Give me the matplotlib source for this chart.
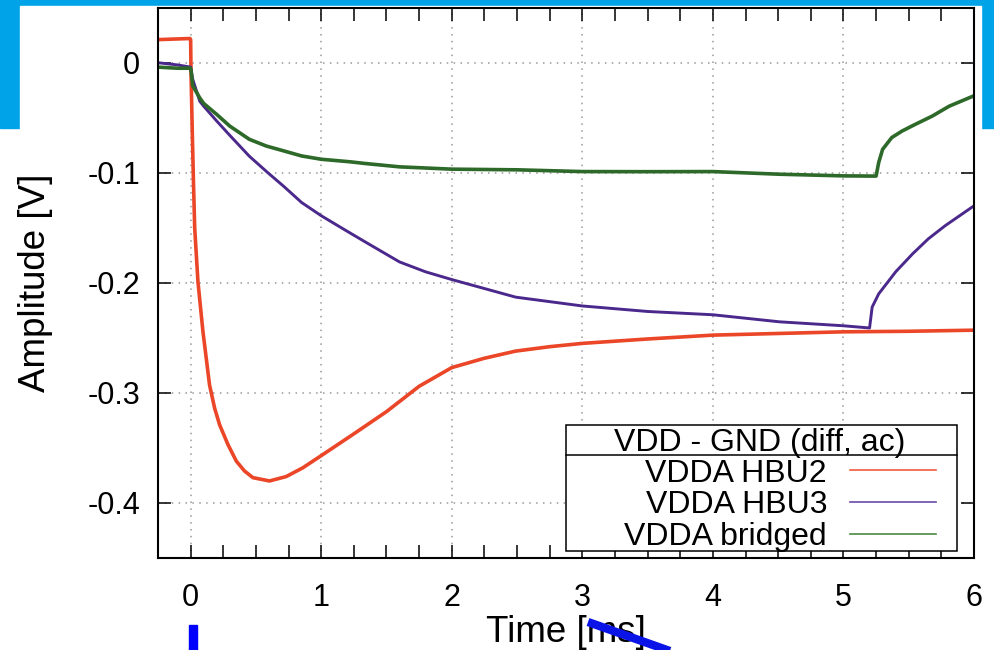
import matplotlib.pyplot as plt
from matplotlib.patches import Rectangle
from matplotlib.lines import Line2D
from matplotlib.ticker import MultipleLocator, FuncFormatter

plt.rcParams['font.family'] = ['Liberation Sans', 'DejaVu Sans']

# (time in ms, amplitude in V)
t_hbu2 = [-0.25, -0.005, 0.0, 0.003, 0.012, 0.022, 0.031, 0.056, 0.094, 0.145, 0.184,
          0.222, 0.286, 0.35, 0.413, 0.477, 0.604, 0.732, 0.86, 1.0, 1.24, 1.5, 1.75,
          2.0, 2.25, 2.49, 2.75, 3.0, 3.5, 4.0, 4.5, 5.0, 5.5, 6.0]
v_hbu2 = [0.021, 0.022, 0.021, -0.01, -0.06, -0.11, -0.15, -0.199, -0.244, -0.293, -0.314,
          -0.329, -0.347, -0.362, -0.371, -0.377, -0.380, -0.376, -0.368, -0.357, -0.338,
          -0.317, -0.294, -0.277, -0.2685, -0.262, -0.258, -0.255, -0.251, -0.2475,
          -0.246, -0.2445, -0.244, -0.243]

t_hbu3 = [-0.25, -0.1, 0.0, 0.016, 0.07, 0.1, 0.2, 0.3, 0.45, 0.59, 0.71, 0.85, 1.0,
          1.19, 1.34, 1.6, 1.8, 2.0, 2.49, 3.0, 3.5, 4.0, 4.51, 5.0, 5.2, 5.22, 5.27,
          5.4, 5.53, 5.65, 5.78, 6.0]
v_hbu3 = [0.0, -0.002, -0.004, -0.015, -0.035, -0.0395, -0.053, -0.066, -0.085, -0.0998,
          -0.112, -0.127, -0.139, -0.1525, -0.163, -0.181, -0.190, -0.197, -0.213, -0.221,
          -0.226, -0.229, -0.2354, -0.239, -0.241, -0.222, -0.21, -0.19, -0.1736, -0.160,
          -0.148, -0.13]

t_bridged = [-0.25, -0.1, 0.0, 0.005, 0.016, 0.07, 0.1, 0.2, 0.3, 0.45, 0.58, 0.71, 0.85,
             1.0, 1.22, 1.34, 1.6, 2.0, 2.5, 3.0, 3.5, 4.0, 4.51, 5.0, 5.25, 5.27, 5.30,
             5.37, 5.45, 5.55, 5.68, 5.81, 6.0]
v_bridged = [-0.004, -0.005, -0.005, -0.009, -0.021, -0.032, -0.037, -0.047, -0.0576,
             -0.0696, -0.0757, -0.080, -0.0847, -0.0877, -0.090, -0.0916, -0.0946, -0.0967,
             -0.0973, -0.0989, -0.099, -0.0989, -0.1013, -0.1028, -0.103, -0.0907, -0.0787,
             -0.068, -0.062, -0.056, -0.0485, -0.0395, -0.030]

labels = ["VDDA HBU2", "VDDA HBU3", "VDDA bridged"]
colors = ["#eb4628", "#4b288c", "#2d6928"]
legend_colors = ["#f05a3c", "#6a4aa8", "#4a8a44"]

fig = plt.figure(figsize=(9.94, 6.5), dpi=100)

# slide background behind the pasted plot
fig.add_artist(Rectangle((0, 1 - 128 / 650), 1, 128 / 650, transform=fig.transFigure,
                         color="#00a3e8", zorder=-2))
fig.add_artist(Rectangle((20 / 994, 0), 961 / 994, 644 / 650, transform=fig.transFigure,
                         color="white", zorder=-1))

ax = fig.add_axes([158 / 994, 1 - 558 / 650, 816 / 994, 550.3 / 650])
ax.plot(t_hbu2, v_hbu2, color=colors[0], lw=2.6, solid_joinstyle="round")
ax.plot(t_hbu3, v_hbu3, color=colors[1], lw=2.1, solid_joinstyle="round")
ax.plot(t_bridged, v_bridged, color=colors[2], lw=2.6, solid_joinstyle="round")

ax.set_xlim(-0.25, 6)
ax.set_ylim(-0.45, 0.05)
ax.xaxis.set_major_locator(MultipleLocator(1))
ax.xaxis.set_minor_locator(MultipleLocator(0.25))
ax.yaxis.set_major_locator(MultipleLocator(0.1))
fmt = FuncFormatter(lambda v, pos: f"{round(v, 2) + 0.0:g}")
ax.xaxis.set_major_formatter(fmt)
ax.yaxis.set_major_formatter(fmt)

ax.tick_params(which="both", direction="in", top=True, right=True,
               length=9.5, width=1.1, labelsize=22)
ax.tick_params(axis="x", pad=18)
ax.tick_params(axis="y", pad=13)
ax.grid(True, which="major", color="#999999", linestyle=(0, (1, 3.5)), linewidth=1.1)
for s in ax.spines.values():
    s.set_linewidth(1.5)

ax.set_xlabel("Time [ms]", fontsize=26.5)
ax.xaxis.set_label_coords(0.5, -0.1036)
ax.set_ylabel("Amplitude [V]", fontsize=26.5)
ax.yaxis.set_label_coords(-0.129, 0.5)

# gnuplot style key box with title row
ax.add_patch(Rectangle((0.5, 0.0127), 0.4792, 0.229, transform=ax.transAxes,
                       facecolor="white", edgecolor="black", lw=1.1, zorder=4))
ax.add_artist(Line2D([0.5, 0.9792], [0.1872, 0.1872], transform=ax.transAxes,
                     color="black", lw=1.1, zorder=4))
ax.text(0.7373, 0.1944, "VDD - GND (diff, ac)", transform=ax.transAxes,
        ha="center", va="baseline", fontsize=23, zorder=6)
handles = [Line2D([], [], color=c, lw=1.2) for c in legend_colors]
leg = ax.legend(handles, labels, loc="lower right", bbox_to_anchor=(0.9534, 0.0113),
                frameon=False, markerfirst=False, fontsize=23, handlelength=2.69,
                handletextpad=0.72, labelspacing=0.05, borderpad=0, borderaxespad=0)
leg.set_zorder(6)

# blue pen marks on the slide
fig.add_artist(Rectangle((189 / 994, 0), 8 / 994, 25 / 650, transform=fig.transFigure,
                         color="#0000ff", zorder=10))
fig.add_artist(Line2D([588 / 994, 684 / 994], [1 - 622 / 650, 1 - 656 / 650],
                      transform=fig.transFigure, color="#0a14e6", lw=6,
                      solid_capstyle="butt", zorder=10))

fig.savefig("out.png", dpi=100)
